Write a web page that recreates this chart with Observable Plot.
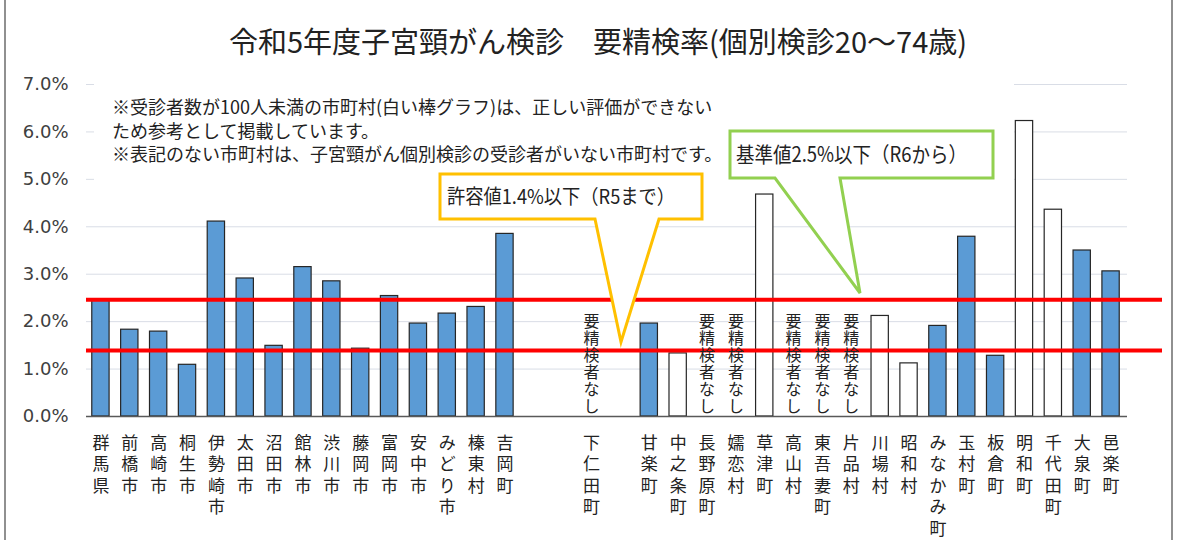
<!DOCTYPE html>
<html><head><meta charset="utf-8">
<script src="https://cdn.jsdelivr.net/npm/d3@7"></script>
<script src="https://cdn.jsdelivr.net/npm/@observablehq/plot@0.6"></script>
<style>
body{margin:0;background:#fff;}
#wrap{position:relative;width:1182px;height:540px;overflow:hidden;font-family:"Noto Sans CJK JP","Noto Sans",sans-serif;background:#fff;}
#title{position:absolute;top:20px;left:7px;width:1182px;text-align:center;font-size:29px;line-height:41px;color:#222;}
#chart{position:absolute;top:66px;left:0;}
#overlay{position:absolute;top:0;left:0;}
</style></head><body>
<div id="wrap">
  <div id="title"></div>
  <div id="chart"></div>
  <svg id="overlay" width="1182" height="540" font-family="'Noto Sans CJK JP',sans-serif"></svg>
</div>
<script>
// ---- data ----
const municipalities = ["群馬県","前橋市","高崎市","桐生市","伊勢崎市","太田市","沼田市","館林市","渋川市","藤岡市","富岡市","安中市","みどり市","榛東村","吉岡町","上野村","神流町","下仁田町","南牧村","甘楽町","中之条町","長野原町","嬬恋村","草津町","高山村","東吾妻町","片品村","川場村","昭和村","みなかみ町","玉村町","板倉町","明和町","千代田町","大泉町","邑楽町"];
const rates = [2.44,1.83,1.79,1.09,4.11,2.91,1.49,3.15,2.85,1.43,2.54,1.96,2.17,2.31,3.85,null,null,0,null,1.96,1.33,0,0,4.68,0,0,0,2.12,1.12,1.91,3.79,1.28,6.23,4.36,3.50,3.06];
// municipalities with no examinees (not labelled)
const unlisted = ["上野村","神流町","南牧村"];
// fewer than 100 examinees (white bars)
const smallSample = ["中之条町","草津町","川場村","昭和村","明和町","千代田町"];
// no one requiring further examination
const noneMunicipalities = ["下仁田町","長野原町","嬬恋村","高山村","東吾妻町","片品村"];
const noneLabel = "要精検者なし";
const thresholds = [2.46, 1.39];
const yTicks = [0,1,2,3,4,5,6,7];
const titleText = "令和5年度子宮頸がん検診　要精検率(個別検診20～74歳)";
const notes = ["※受診者数が100人未満の市町村(白い棒グラフ)は、正しい評価ができない","ため参考として掲載しています。","※表記のない市町村は、子宮頸がん個別検診の受診者がいない市町村です。"];
const calloutTolerance = "許容値1.4%以下（R5まで）";
const calloutStandard = "基準値2.5%以下（R6から）";

const data = municipalities.map((name,i)=>({name, rate: rates[i], small: smallSample.includes(name)}));
const bars = data.filter(d=>d.rate != null && d.rate > 0);
const noneData = noneMunicipalities.map(name=>({name}));

const chart = Plot.plot({
  width: 1182, height: 474,
  marginLeft: 86, marginRight: 20, marginTop: 18, marginBottom: 124,
  style: {fontFamily: "'Noto Sans CJK JP', sans-serif", background: "transparent", overflow: "visible"},
  x: {domain: municipalities, range: [86, 1125], paddingInner: 0.4, paddingOuter: 0.2, label: null},
  y: {domain: [0, 7], label: null},
  marks: [
    Plot.ruleY(yTicks.filter(d=>d>0), {stroke:"#d9dde6", strokeWidth:1, insetRight:35}),
    Plot.barY(bars.filter(d=>!d.small), {x:"name", y:"rate", fill:"#5b9bd5", stroke:"#262626", strokeWidth:1.2}),
    Plot.barY(bars.filter(d=>d.small), {x:"name", y:"rate", fill:"#ffffff", stroke:"#262626", strokeWidth:1.2}),
    Plot.ruleY([0], {stroke:"#595959", strokeWidth:1.5, insetRight:35}),
    Plot.ruleY(thresholds, {stroke:"#ff0000", strokeWidth:4}),
    Plot.text(noneData, {x:"name", y:0, text: ()=>[...noneLabel].join("\n"), lineAnchor:"bottom", fontSize:16, lineHeight:1.06, dy:-5, fill:"#222"}),
    Plot.axisY({ticks: yTicks, tickFormat: d=>d.toFixed(1)+"%", tickSize:0, tickPadding:18, fontSize:18, fontFamily:"DejaVu Sans", fill:"#404040", label:null}),
    Plot.axisX({tickFormat: d=> unlisted.includes(d) ? "" : [...d].join("\n"), tickSize:0, tickPadding:17, fontSize:17, lineHeight:1.265, fill:"#222", label:null})
  ]
});
document.getElementById("chart").appendChild(chart);
document.getElementById("title").textContent = titleText;

// ---- annotations (overlay) ----
const ov = d3.select("#overlay");
ov.append("line").attr("x1",5).attr("x2",5).attr("y1",0).attr("y2",540).attr("stroke","#6b6b6b").attr("stroke-width",1.5);
ov.append("line").attr("x1",1172).attr("x2",1172).attr("y1",0).attr("y2",540).attr("stroke","#6b6b6b").attr("stroke-width",1.5);
ov.append("rect").attr("x",94).attr("y",80).attr("width",920).attr("height",101).attr("fill","#fff");
const nt = ov.append("g").attr("font-size",18).attr("fill","#222");
notes.forEach((t,i)=>nt.append("text").attr("x",112).attr("y",114+i*23.5).text(t));
ov.append("path").attr("d","M440,174L702,174L702,219L659,219L621,342L595,219L440,219Z").attr("fill","#fff").attr("stroke","#ffc000").attr("stroke-width",3);
ov.append("text").attr("x",447).attr("y",204).attr("font-size",20).attr("fill","#222").attr("textLength",228).attr("lengthAdjust","spacingAndGlyphs").text(calloutTolerance);
ov.append("path").attr("d","M730,131L993,131L993,178L840,178L860,293L775,178L730,178Z").attr("fill","#fff").attr("stroke","#92d050").attr("stroke-width",3);
ov.append("text").attr("x",736).attr("y",162).attr("font-size",21).attr("fill","#222").attr("textLength",231).attr("lengthAdjust","spacingAndGlyphs").text(calloutStandard);
</script>
</body></html>
